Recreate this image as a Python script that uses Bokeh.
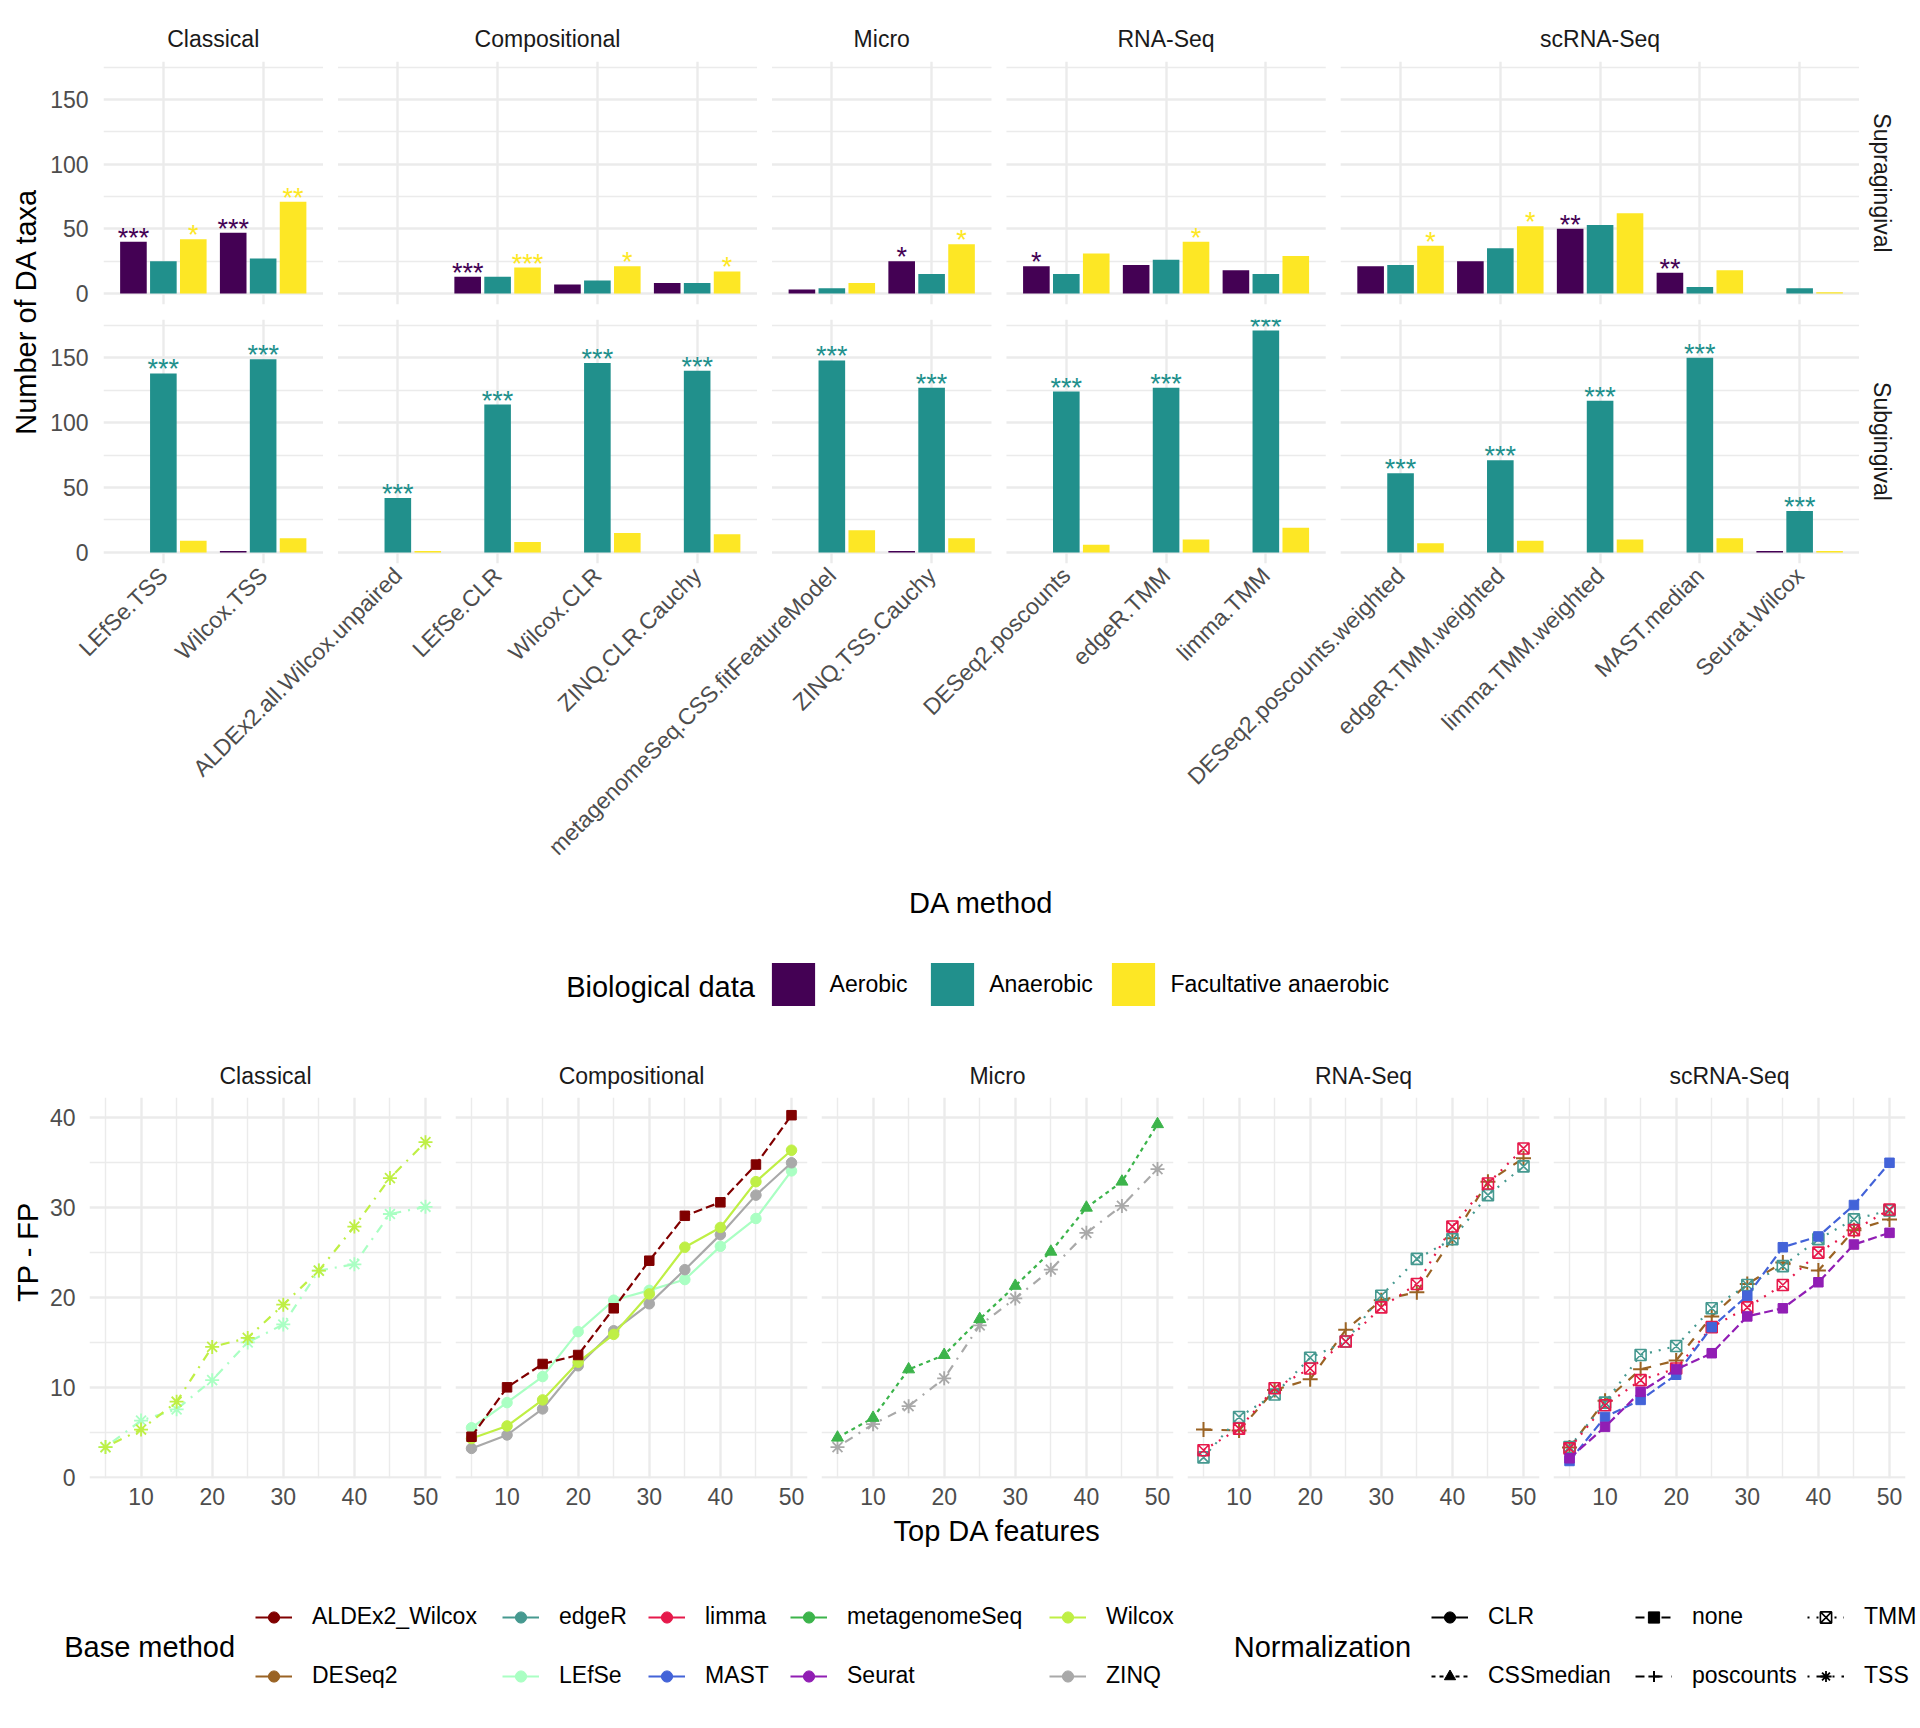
from math import pi
from bokeh.plotting import figure
from bokeh.models import (Range1d, FixedTicker, Grid, BoxAnnotation, Label,
                          ColumnDataSource, Legend, LegendItem)
from bokeh.layouts import row, column
from bokeh.embed import file_html
from bokeh.resources import INLINE
from bokeh.core.properties import value

# ===================== DATA: number of DA taxa (bars) =====================
FACETS = ["Classical", "Compositional", "Micro", "RNA-Seq", "scRNA-Seq"]
CLASSICAL_METHODS = ["LEfSe.TSS", "Wilcox.TSS"]
COMPOSITIONAL_METHODS = ["ALDEx2.all.Wilcox.unpaired", "LEfSe.CLR", "Wilcox.CLR", "ZINQ.CLR.Cauchy"]
MICRO_METHODS = ["metagenomeSeq.CSS.fitFeatureModel", "ZINQ.TSS.Cauchy"]
RNASEQ_METHODS = ["DESeq2.poscounts", "edgeR.TMM", "limma.TMM"]
SCRNASEQ_METHODS = ["DESeq2.poscounts.weighted", "edgeR.TMM.weighted", "limma.TMM.weighted",
                    "MAST.median", "Seurat.Wilcox"]
SITES = ["Supragingival", "Subgingival"]
GROUPS = ["Aerobic", "Anaerobic", "Facultative anaerobic"]

SUPRA_AEROBIC = [40, 47, 0, 13, 7, 8, 3, 25, 21, 22, 18, 21, 25, 50, 16, 0]
SUPRA_ANAEROBIC = [25, 27, 0, 13, 10, 8, 4, 15, 15, 26, 15, 22, 35, 53, 5, 4]
SUPRA_FACULTATIVE = [42, 71, 0, 20, 21, 17, 8, 38, 31, 40, 29, 37, 52, 62, 18, 1]
SUPRA_STARS_AEROBIC = ["***", "***", "", "***", "", "", "", "*", "*", "", "", "", "", "**", "**", ""]
SUPRA_STARS_ANAEROBIC = ["", "", "", "", "", "", "", "", "", "", "", "", "", "", "", ""]
SUPRA_STARS_FACULTATIVE = ["*", "**", "", "***", "*", "*", "", "*", "", "*", "", "*", "*", "", "", ""]

SUB_AEROBIC = [0, 1, 0, 0, 0, 0, 0, 1, 0, 0, 0, 0, 0, 0, 0, 1]
SUB_ANAEROBIC = [138, 149, 42, 114, 146, 140, 148, 127, 124, 127, 171, 61, 71, 117, 150, 32]
SUB_FACULTATIVE = [9, 11, 1, 8, 15, 14, 17, 11, 6, 10, 19, 7, 9, 10, 11, 1]
SUB_STARS_AEROBIC = ["", "", "", "", "", "", "", "", "", "", "", "", "", "", "", ""]
SUB_STARS_ANAEROBIC = ["***"] * 16
SUB_STARS_FACULTATIVE = ["", "", "", "", "", "", "", "", "", "", "", "", "", "", "", ""]

BAR_Y_TICKS = [0, 50, 100, 150]
BAR_Y_MINOR = [25, 75, 125, 175]

# ===================== DATA: TP - FP curves =====================
TOP_N = [5, 10, 15, 20, 25, 30, 35, 40, 45, 50]
LINE_X_TICKS = [10, 20, 30, 40, 50]
LINE_X_MINOR = [5, 15, 25, 35, 45]
LINE_Y_TICKS = [0, 10, 20, 30, 40]
LINE_Y_MINOR = [5, 15, 25, 35]

CLASSICAL_LEFSE_TSS = [3.35, 6.3, 7.55, 10.8, 15.0, 17.0, 23.0, 23.7, 29.3, 30.1]
CLASSICAL_WILCOX_TSS = [3.35, 5.3, 8.4, 14.5, 15.5, 19.2, 23.0, 27.9, 33.3, 37.3]
COMP_ALDEX2_NONE = [4.5, 10.0, 12.6, 13.6, 18.8, 24.1, 29.1, 30.6, 34.8, 40.3]
COMP_LEFSE_CLR = [5.5, 8.3, 11.2, 16.2, 19.7, 20.8, 22.0, 25.7, 28.8, 34.1]
COMP_WILCOX_CLR = [4.3, 5.7, 8.6, 12.8, 15.9, 20.4, 25.6, 27.8, 32.9, 36.4]
COMP_ZINQ_CLR = [3.2, 4.7, 7.6, 12.4, 16.3, 19.3, 23.1, 27.0, 31.4, 35.0]
MICRO_MGS_CSS = [4.4, 6.6, 12.0, 13.6, 17.6, 21.3, 25.1, 30.0, 32.9, 39.3]
MICRO_ZINQ_TSS = [3.35, 5.9, 7.9, 11.0, 16.9, 19.9, 23.1, 27.2, 30.2, 34.3]
RNA_DESEQ2_POSCOUNTS = [5.3, 5.2, 9.7, 10.9, 16.4, 19.7, 20.6, 26.6, 32.9, 35.5]
RNA_EDGER_TMM = [2.2, 6.7, 9.2, 13.3, 15.1, 20.2, 24.3, 26.5, 31.4, 34.6]
RNA_LIMMA_TMM = [3.0, 5.4, 9.9, 12.1, 15.1, 18.9, 21.5, 27.9, 32.7, 36.6]
SC_DESEQ2_POSCOUNTS = [3.3, 8.5, 12.0, 13.0, 17.9, 21.5, 23.9, 23.0, 27.5, 28.7]
SC_EDGER_TMM = [3.35, 8.3, 13.6, 14.6, 18.8, 21.4, 23.5, 26.5, 28.7, 29.7]
SC_LIMMA_TMM = [3.2, 8.0, 10.8, 12.1, 16.7, 18.9, 21.4, 25.0, 27.5, 29.8]
SC_MAST_NONE = [1.8, 6.7, 8.6, 11.4, 16.7, 20.2, 25.6, 26.8, 30.3, 35.0]
SC_SEURAT_NONE = [2.1, 5.6, 9.5, 12.0, 13.8, 17.9, 18.8, 21.7, 25.9, 27.2]

LINE_SERIES = [
    ("Classical", "LEfSe", "TSS", CLASSICAL_LEFSE_TSS),
    ("Classical", "Wilcox", "TSS", CLASSICAL_WILCOX_TSS),
    ("Compositional", "LEfSe", "CLR", COMP_LEFSE_CLR),
    ("Compositional", "ZINQ", "CLR", COMP_ZINQ_CLR),
    ("Compositional", "Wilcox", "CLR", COMP_WILCOX_CLR),
    ("Compositional", "ALDEx2_Wilcox", "none", COMP_ALDEX2_NONE),
    ("Micro", "ZINQ", "TSS", MICRO_ZINQ_TSS),
    ("Micro", "metagenomeSeq", "CSSmedian", MICRO_MGS_CSS),
    ("RNA-Seq", "DESeq2", "poscounts", RNA_DESEQ2_POSCOUNTS),
    ("RNA-Seq", "edgeR", "TMM", RNA_EDGER_TMM),
    ("RNA-Seq", "limma", "TMM", RNA_LIMMA_TMM),
    ("scRNA-Seq", "DESeq2", "poscounts", SC_DESEQ2_POSCOUNTS),
    ("scRNA-Seq", "edgeR", "TMM", SC_EDGER_TMM),
    ("scRNA-Seq", "limma", "TMM", SC_LIMMA_TMM),
    ("scRNA-Seq", "MAST", "none", SC_MAST_NONE),
    ("scRNA-Seq", "Seurat", "none", SC_SEURAT_NONE),
]

BASE_METHODS = ["ALDEx2_Wilcox", "DESeq2", "edgeR", "LEfSe", "limma", "MAST",
                "metagenomeSeq", "Seurat", "Wilcox", "ZINQ"]
NORMALIZATIONS = ["CLR", "CSSmedian", "none", "poscounts", "TMM", "TSS"]

# ===================== STYLE =====================
FONT = "Liberation Sans"
GRID_COL = "#EBEBEB"
AXIS_TXT = "#4D4D4D"
STRIP_TXT = "#1A1A1A"
GROUP_COLORS = ["#440154", "#21908C", "#FDE725"]
BASE_COLORS = ["#800000", "#9A6324", "#469990", "#AAFFC3", "#E6194B", "#4363D8",
               "#3CB44B", "#911EB4", "#BFEF45", "#A9A9A9"]
NORM_DASH = {"CLR": "solid", "CSSmedian": "4 4", "none": "9 4", "poscounts": "9 9",
             "TMM": "2 7", "TSS": "2 7 9 7"}
NORM_MARK = {"CLR": ("circle", 10.5, True, 1.0), "CSSmedian": ("triangle", 12, True, 1.0),
             "none": ("square", 9.5, True, 1.0), "poscounts": ("cross", 15, False, 2.0),
             "TMM": ("square_x", 11, False, 1.6), "TSS": ("asterisk", 14, False, 1.8)}
base_color = dict(zip(BASE_METHODS, BASE_COLORS))


def make_fig(**kw):
    p = figure(output_backend="svg", toolbar_location=None, title=None, **kw)
    p.outline_line_color = None
    p.background_fill_color = "white"
    p.border_fill_color = "white"
    return p


def set_grids(p, xt=None, yt=None):
    p.center = [r for r in p.center if not isinstance(r, Grid)]
    for dim, t in ((0, xt), (1, yt)):
        if t is not None:
            p.add_layout(Grid(dimension=dim, ticker=t, grid_line_color=GRID_COL, grid_line_width=2.4,
                              minor_grid_line_color=GRID_COL, minor_grid_line_width=1.4))


def style_axis(ax, standoff):
    ax.axis_line_color = None
    ax.major_tick_line_color = None
    ax.minor_tick_line_color = None
    ax.major_tick_in = 0
    ax.major_tick_out = 0
    ax.minor_tick_in = 0
    ax.minor_tick_out = 0
    ax.major_label_standoff = standoff
    ax.major_label_text_font = FONT
    ax.major_label_text_font_size = "23px"
    ax.major_label_text_color = AXIS_TXT


def text_fig(w, h):
    p = make_fig(width=w, height=h, x_range=Range1d(0, 1), y_range=Range1d(0, 1),
                 x_axis_location=None, y_axis_location=None, min_border=0)
    set_grids(p)
    return p


def add_label(p, text, x, y, size, color="black", angle=0.0, align="center"):
    p.add_layout(Label(x=x, y=y, x_units="screen", y_units="screen", text=text, angle=angle,
                       text_align=align, text_baseline="middle", text_font=FONT,
                       text_font_size=size, text_color=color))


# ===================== BAR SECTION =====================
PAD = 0.6
FACET_GAP = 0.15
DODGE = 0.3
BAR_W = 0.8 / 3
facet_methods = [CLASSICAL_METHODS, COMPOSITIONAL_METHODS, MICRO_METHODS, RNASEQ_METHODS, SCRNASEQ_METHODS]
methods_all, xpos, facet_bounds = [], [], []
start = 0.0
for ms in facet_methods:
    end = start + len(ms) - 1 + 2 * PAD
    facet_bounds.append((round(start, 2), round(end, 2)))
    for i, m in enumerate(ms):
        methods_all.append(m)
        xpos.append(round(start + PAD + i, 2))
    start = end + FACET_GAP
X_END = facet_bounds[-1][1]
BAR_FRAME_W = 1756
BAR_LEFT = 58
SUB_BOTTOM = 320


def bar_panel(vals, stars, frame_h, b_top, b_bottom, show_x):
    p = make_fig(frame_width=BAR_FRAME_W, frame_height=frame_h,
                 x_range=Range1d(0, X_END), y_range=Range1d(-8.55, 179.55),
                 min_border_left=BAR_LEFT, min_border_right=0,
                 min_border_top=b_top, min_border_bottom=b_bottom,
                 x_axis_location="below" if show_x else None)
    yt = FixedTicker(ticks=BAR_Y_TICKS, minor_ticks=BAR_Y_MINOR)
    xt = FixedTicker(ticks=xpos)
    p.yaxis.ticker = yt
    style_axis(p.yaxis[0], 15)
    if show_x:
        p.xaxis.ticker = xt
        style_axis(p.xaxis[0], 8)
        p.xaxis.major_label_orientation = pi / 4
        p.xaxis.major_label_overrides = {x: m for x, m in zip(xpos, methods_all)}
    set_grids(p, xt, yt)
    for (a0, a1), (b0, b1) in zip(facet_bounds[:-1], facet_bounds[1:]):
        p.add_layout(BoxAnnotation(left=a1, right=b0, fill_color="white", fill_alpha=1.0,
                                   line_color=None))
    for gi, (grp, col) in enumerate(zip(GROUPS, GROUP_COLORS)):
        xs = [x + (gi - 1) * DODGE for x in xpos]
        src = ColumnDataSource(dict(x=xs, top=vals[gi], method=methods_all))
        p.vbar(x="x", top="top", bottom=0, width=BAR_W, source=src, fill_color=col, line_color=None)
    for gi, (grp, col) in enumerate(zip(GROUPS, GROUP_COLORS)):
        xs = [x + (gi - 1) * DODGE for x in xpos]
        sx = [x for x, s in zip(xs, stars[gi]) if s]
        sy = [v for v, s in zip(vals[gi], stars[gi]) if s]
        st = [s for s in stars[gi] if s]
        if st:
            p.text(x=sx, y=sy, text=st, text_font=value(FONT), text_font_size="27px",
                   text_color=col, text_align="center", text_baseline="alphabetic", y_offset=-4)
    return p


# facet strip labels above the bars
fig_strip = make_fig(frame_width=BAR_FRAME_W, frame_height=61, x_range=Range1d(0, X_END),
                     y_range=Range1d(0, 61), x_axis_location=None, y_axis_location=None,
                     min_border_left=BAR_LEFT, min_border_right=0, min_border_top=0, min_border_bottom=0)
set_grids(fig_strip)
fig_strip.text(x=[(a + b) / 2 for a, b in facet_bounds], y=[22.8] * len(FACETS), text=FACETS,
               text_font=value(FONT), text_font_size="23px", text_color=STRIP_TXT,
               text_align="center", text_baseline="middle")

fig_sup = bar_panel([SUPRA_AEROBIC, SUPRA_ANAEROBIC, SUPRA_FACULTATIVE],
                    [SUPRA_STARS_AEROBIC, SUPRA_STARS_ANAEROBIC, SUPRA_STARS_FACULTATIVE],
                    243, 0, 7, False)
fig_sub = bar_panel([SUB_AEROBIC, SUB_ANAEROBIC, SUB_FACULTATIVE],
                    [SUB_STARS_AEROBIC, SUB_STARS_ANAEROBIC, SUB_STARS_FACULTATIVE],
                    244, 8, SUB_BOTTOM, True)

TOP_H = 61 + 250 + 8 + 244 + SUB_BOTTOM
fig_ytitle = text_fig(45, TOP_H)
add_label(fig_ytitle, "Number of DA taxa", 25.7, TOP_H - 311, "29px", angle=pi / 2)

fig_rstrip = text_fig(61, TOP_H)
add_label(fig_rstrip, SITES[0], 22, TOP_H - 182.5, "23px", STRIP_TXT, angle=-pi / 2)
add_label(fig_rstrip, SITES[1], 22, TOP_H - 441, "23px", STRIP_TXT, angle=-pi / 2)

# x title + legend for bars
LEGA_H = 1040 - TOP_H
fig_legA = text_fig(1920, LEGA_H)
add_label(fig_legA, "DA method", 103 + BAR_FRAME_W / 2, 1040 - 902.5, "29px")
add_label(fig_legA, "Biological data", 565.7, 53.3, "29px", align="left")
for grp, col, lx in zip(GROUPS, GROUP_COLORS, [765.6, 925.2, 1106.4]):
    r = fig_legA.vbar(x=[-5], top=[-5], bottom=[-6], width=1, fill_color=col, line_color=None)
    fig_legA.add_layout(Legend(items=[LegendItem(label=grp, renderers=[r])], location=(lx, 28.6),
                               orientation="vertical", padding=0, margin=0, border_line_color=None,
                               background_fill_alpha=0, glyph_width=54, glyph_height=54,
                               label_standoff=10, label_text_font=FONT, label_text_font_size="23px",
                               label_text_color="black"))

# ===================== LINE SECTION =====================
LINE_FRAME_W = 352
LINE_FRAME_H = 381
LINE_BOTTOM = 36
panel_left = [89 + k * (LINE_FRAME_W + 14) for k in range(len(FACETS))]

fig_lstrip = text_fig(1920, 57)
for facet, pl in zip(FACETS, panel_left):
    add_label(fig_lstrip, facet, pl + LINE_FRAME_W / 2, 57 - 35.7, "23px", STRIP_TXT)

LINE_H = LINE_FRAME_H + LINE_BOTTOM
fig_tpfp = text_fig(45, LINE_H)
add_label(fig_tpfp, "TP - FP", 27, LINE_H - LINE_FRAME_H / 2, "29px", angle=pi / 2)

line_figs = []
for i, facet in enumerate(FACETS):
    first = i == 0
    p = make_fig(frame_width=LINE_FRAME_W, frame_height=LINE_FRAME_H,
                 x_range=Range1d(2.75, 52.25), y_range=Range1d(-0.15, 42.27),
                 min_border_left=44 if first else 7, min_border_right=7,
                 min_border_top=0, min_border_bottom=LINE_BOTTOM,
                 y_axis_location="left" if first else None)
    xt = FixedTicker(ticks=LINE_X_TICKS, minor_ticks=LINE_X_MINOR)
    yt = FixedTicker(ticks=LINE_Y_TICKS, minor_ticks=LINE_Y_MINOR)
    p.xaxis.ticker = xt
    style_axis(p.xaxis[0], 9)
    if first:
        p.yaxis.ticker = yt
        style_axis(p.yaxis[0], 14)
    set_grids(p, xt, yt)
    for fac, meth, norm, vals in LINE_SERIES:
        if fac != facet:
            continue
        c = base_color[meth]
        src = ColumnDataSource(dict(x=TOP_N, y=vals))
        p.line(x="x", y="y", source=src, line_color=c, line_width=2.2, line_dash=NORM_DASH[norm])
        mk, sz, filled, lw = NORM_MARK[norm]
        p.scatter(x="x", y="y", source=src, marker=mk, size=sz, line_color=c, line_width=lw,
                  fill_color=c if filled else None)
    line_figs.append(p)

# x title + legends for lines
BOT_H = 1728 - 1040 - 57 - LINE_H
fig_bottom = text_fig(1920, BOT_H)
add_label(fig_bottom, "Top DA features", panel_left[2] + LINE_FRAME_W / 2, BOT_H - 16.6, "29px")
add_label(fig_bottom, "Base method", 63.7, 81.3, "29px", align="left")
add_label(fig_bottom, "Normalization", 1233.3, 81.3, "29px", align="left")
LEG_KW = dict(orientation="vertical", padding=0, margin=0, border_line_color=None,
              background_fill_alpha=0, glyph_width=37, glyph_height=28, label_height=28,
              label_standoff=20, spacing=31, label_text_font=FONT, label_text_font_size="23px",
              label_text_color="black")
base_items = []
for meth, col in zip(BASE_METHODS, BASE_COLORS):
    rl = fig_bottom.line(x=[-5, -4], y=[-5, -4], line_color=col, line_width=2.2)
    rs = fig_bottom.scatter(x=[-5], y=[-5], marker="circle", size=10, color=col)
    base_items.append(LegendItem(label=meth, renderers=[rl, rs]))
for k, lx in enumerate([255, 502, 648, 790, 1049]):
    fig_bottom.add_layout(Legend(items=base_items[2 * k:2 * k + 2], location=(lx, 38.5), **LEG_KW))
norm_items = []
for norm in NORMALIZATIONS:
    mk, sz, filled, lw = NORM_MARK[norm]
    rl = fig_bottom.line(x=[-5, -4], y=[-5, -4], line_color="black", line_width=2.2,
                         line_dash=NORM_DASH[norm])
    rs = fig_bottom.scatter(x=[-5], y=[-5], marker=mk, size=sz, line_color="black", line_width=lw,
                            fill_color="black" if filled else None)
    norm_items.append(LegendItem(label=norm, renderers=[rl, rs]))
for k, lx in enumerate([1431, 1635, 1807]):
    fig_bottom.add_layout(Legend(items=norm_items[2 * k:2 * k + 2], location=(lx, 38.5), **LEG_KW))

layout = column(
    row(fig_ytitle, column(fig_strip, fig_sup, fig_sub), fig_rstrip),
    fig_legA,
    fig_lstrip,
    row(fig_tpfp, *line_figs),
    fig_bottom,
)
open("out.html", "w").write(file_html(layout, INLINE, "DA taxa"))
